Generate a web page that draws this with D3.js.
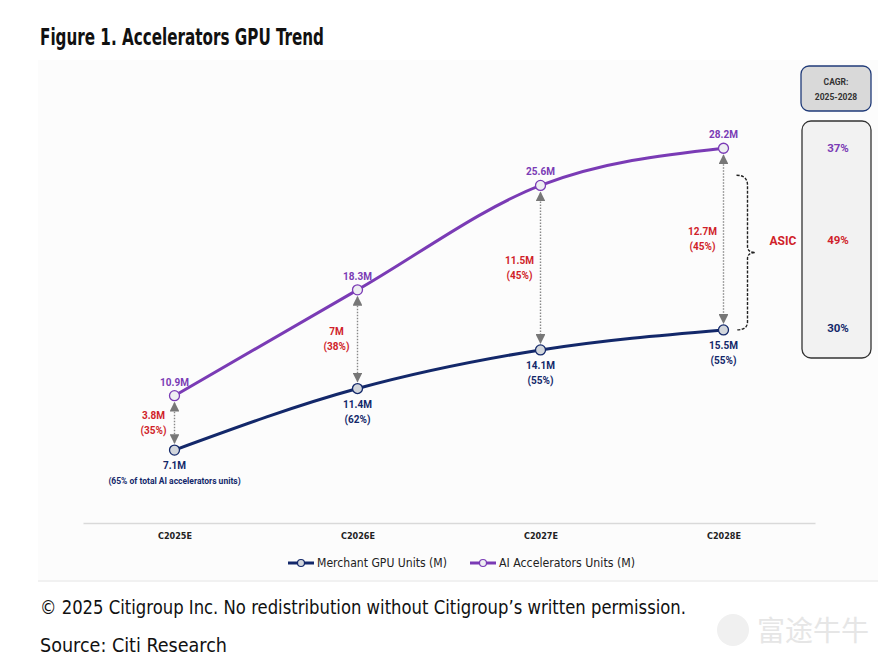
<!DOCTYPE html>
<html>
<head>
<meta charset="utf-8">
<script src="https://cdn.jsdelivr.net/npm/d3@7"></script>
<style>
  body { margin: 0; background: #fff; }
  svg text { font-family: "Roboto", "Liberation Sans", sans-serif; }
  .cond { font-family: "Liberation Sans Narrow", "DejaVu Sans Condensed", sans-serif !important; }
</style>
</head>
<body>
<div id="graph"></div>
<script>
// chart data
var years = ["C2025E", "C2026E", "C2027E", "C2028E"];
var merchantGPU = [7.1, 11.4, 14.1, 15.5];
var aiAccel = [10.9, 18.3, 25.6, 28.2];
var merchantShare = ["(65% of total AI accelerators units)", "(62%)", "(55%)", "(55%)"];
var asicUnits = ["3.8M", "7M", "11.5M", "12.7M"];
var asicShare = ["(35%)", "(38%)", "(45%)", "(45%)"];
var cagrLabels = ["37%", "49%", "30%"];
var seriesNames = ["Merchant GPU Units (M)", "AI Accelerators Units (M)"];

var W = 895, H = 667;
var navy = "#13286a", purple = "#7a3bb5", red = "#d01f2a";

var svg = d3.select("#graph").append("svg")
    .attr("width", W)
    .attr("height", H);

// arrow marker
var defs = svg.append("defs");
defs.append("marker")
    .attr("id", "arr")
    .attr("viewBox", "0 0 10 10")
    .attr("refX", 9).attr("refY", 5)
    .attr("markerWidth", 7).attr("markerHeight", 7)
    .attr("orient", "auto-start-reverse")
    .append("path")
    .attr("d", "M0,0L10,5L0,10Z")
    .attr("fill", "#777");

// title
svg.append("text")
    .attr("class", "cond")
    .attr("x", 40).attr("y", 45)
    .attr("textLength", 284).attr("lengthAdjust", "spacingAndGlyphs")
    .style("font-size", "23px").style("font-weight", "bold")
    .attr("fill", "#111")
    .text("Figure 1. Accelerators GPU Trend");

// chart panel
svg.append("rect")
    .attr("x", 38).attr("y", 60).attr("width", 840).attr("height", 520)
    .attr("fill", "#fcfcfc");

var x = d3.scalePoint().domain(years).range([83, 815]).padding(0.5);
var y = d3.scaleLinear().domain([2, 30]).range([523, 122.5]);

// x axis
var xAxis = svg.append("g")
    .attr("transform", "translate(0,523)")
    .call(d3.axisBottom(x).tickSize(0).tickPadding(10));
xAxis.select(".domain").attr("stroke", "#d9d9d9").attr("stroke-width", 1.5);
xAxis.selectAll("text")
    .attr("class", "cond")
    .style("font-size", "9px").style("font-weight", "bold")
    .attr("fill", "#222");

var line = d3.line()
    .x(function(d, i) { return x(years[i]); })
    .y(function(d) { return y(d); })
    .curve(d3.curveMonotoneX);

// ASIC gap arrows
years.forEach(function(yr, i) {
    svg.append("line")
        .attr("x1", x(yr)).attr("x2", x(yr))
        .attr("y1", y(aiAccel[i]) + 7).attr("y2", y(merchantGPU[i]) - 7)
        .attr("stroke", "#888").attr("stroke-width", 1.4)
        .attr("stroke-dasharray", "1.5,1.5")
        .attr("marker-start", "url(#arr)")
        .attr("marker-end", "url(#arr)");
    var mid = (y(aiAccel[i]) + y(merchantGPU[i])) / 2;
    var lbl = svg.append("text")
        .attr("x", x(yr) - 21).attr("y", mid - 4)
        .attr("text-anchor", "middle")
        .style("font-size", "10px").style("font-weight", "bold")
        .attr("fill", red);
    lbl.append("tspan").attr("x", x(yr) - 21).text(asicUnits[i]);
    lbl.append("tspan").attr("x", x(yr) - 21).attr("dy", 15).text(asicShare[i]);
});

// lines
svg.append("path").datum(aiAccel)
    .attr("d", line).attr("fill", "none")
    .attr("stroke", purple).attr("stroke-width", 3);
svg.append("path").datum(merchantGPU)
    .attr("d", line).attr("fill", "none")
    .attr("stroke", navy).attr("stroke-width", 3);

// markers
svg.selectAll(".dotAI").data(aiAccel).enter().append("circle")
    .attr("cx", function(d, i) { return x(years[i]); })
    .attr("cy", function(d) { return y(d); })
    .attr("r", 5).attr("fill", "#eeeef2")
    .attr("stroke", purple).attr("stroke-width", 1.3);
svg.selectAll(".dotM").data(merchantGPU).enter().append("circle")
    .attr("cx", function(d, i) { return x(years[i]); })
    .attr("cy", function(d) { return y(d); })
    .attr("r", 5).attr("fill", "#d2d6dc")
    .attr("stroke", navy).attr("stroke-width", 1.3);

// value labels
aiAccel.forEach(function(v, i) {
    svg.append("text")
        .attr("x", x(years[i])).attr("y", y(v) - 10)
        .attr("text-anchor", "middle")
        .style("font-size", "10px").style("font-weight", "bold")
        .attr("fill", purple)
        .text(v + "M");
});
merchantGPU.forEach(function(v, i) {
    var t = svg.append("text")
        .attr("x", x(years[i])).attr("y", y(v) + 19)
        .attr("text-anchor", "middle")
        .style("font-size", "10px").style("font-weight", "bold")
        .attr("fill", navy);
    t.append("tspan").attr("x", x(years[i])).text(v + "M");
    t.append("tspan").attr("x", x(years[i])).attr("dy", 15)
        .style("font-size", i == 0 ? "8.5px" : "10px")
        .text(merchantShare[i]);
});

// ASIC brace
var bx = x(years[3]) + 24, by0 = y(aiAccel[3]) + 27, by1 = y(merchantGPU[3]);
var bm = (by0 + by1) / 2;
svg.append("path")
    .attr("d", "M" + (bx - 11) + "," + by0 + " Q" + bx + "," + by0 + " " + bx + "," + (by0 + 10) +
        " L" + bx + "," + (bm - 6) + " Q" + bx + "," + bm + " " + (bx + 8) + "," + bm +
        " Q" + bx + "," + bm + " " + bx + "," + (bm + 6) +
        " L" + bx + "," + (by1 - 8) + " Q" + bx + "," + by1 + " " + (bx - 11) + "," + by1)
    .attr("fill", "none").attr("stroke", "#222").attr("stroke-width", 1.4)
    .attr("stroke-dasharray", "3,1.5");
svg.append("text")
    .attr("x", bx + 22).attr("y", bm - 8)
    .style("font-size", "12px").style("font-weight", "bold")
    .attr("fill", red).text("ASIC");

// CAGR boxes
svg.append("rect")
    .attr("x", 801).attr("y", 66).attr("width", 70).attr("height", 45)
    .attr("rx", 8).attr("fill", "#d9d9d9")
    .attr("stroke", "#1f3a78").attr("stroke-width", 1.3);
svg.append("text").attr("x", 836).attr("y", 85).attr("text-anchor", "middle")
    .style("font-size", "8.5px").style("font-weight", "bold").attr("fill", "#333")
    .text("CAGR:");
svg.append("text").attr("x", 836).attr("y", 100).attr("text-anchor", "middle")
    .style("font-size", "8.5px").style("font-weight", "bold").attr("fill", "#333")
    .text("2025-2028");
svg.append("rect")
    .attr("x", 802).attr("y", 121).attr("width", 69).attr("height", 237)
    .attr("rx", 9).attr("fill", "#f2f2f2")
    .attr("stroke", "#333").attr("stroke-width", 1.3);
var cagrY = [y(aiAccel[3]), bm - 13, y(merchantGPU[3]) - 2];
var cagrColor = [purple, red, navy];
cagrLabels.forEach(function(c, i) {
    svg.append("text").attr("x", 838).attr("y", cagrY[i] + 4)
        .attr("text-anchor", "middle")
        .style("font-size", "11.5px").style("font-weight", "bold")
        .attr("fill", cagrColor[i]).text(c);
});

// legend
var legX = [288, 470];
var legCol = [navy, purple];
var legFill = ["#d2d6dc", "#eeeef2"];
seriesNames.forEach(function(n, i) {
    var g = svg.append("g").attr("transform", "translate(" + legX[i] + ",563)");
    g.append("line").attr("x1", 0).attr("x2", 26)
        .attr("stroke", legCol[i]).attr("stroke-width", 3);
    g.append("circle").attr("cx", 13).attr("r", 3.5)
        .attr("fill", legFill[i]).attr("stroke", legCol[i]).attr("stroke-width", 1.2);
    g.append("text").attr("class", "cond").attr("x", 29).attr("y", 4)
        .attr("textLength", i == 0 ? 130 : 136).attr("lengthAdjust", "spacingAndGlyphs")
        .style("font-size", "12px").attr("fill", "#222").text(n);
});

// footer
svg.append("line").attr("x1", 38).attr("x2", 878).attr("y1", 581).attr("y2", 581)
    .attr("stroke", "#e3e3e3").attr("stroke-width", 1.2);
svg.append("text").attr("class", "cond")
    .attr("x", 40).attr("y", 614)
    .attr("textLength", 646).attr("lengthAdjust", "spacingAndGlyphs")
    .style("font-size", "20px").attr("fill", "#111")
    .text("© 2025 Citigroup Inc. No redistribution without Citigroup’s written permission.");
svg.append("text").attr("class", "cond")
    .attr("x", 40).attr("y", 652)
    .attr("textLength", 187).attr("lengthAdjust", "spacingAndGlyphs")
    .style("font-size", "20px").attr("fill", "#111")
    .text("Source: Citi Research");

// watermark
svg.append("circle").attr("cx", 733).attr("cy", 630).attr("r", 16)
    .attr("fill", "#f0f0f0");
svg.append("text")
    .attr("x", 757).attr("y", 641)
    .style("font-family", "'Noto Sans CJK SC'")
    .style("font-size", "28px").attr("fill", "#e6e6e6")
    .text("富途牛牛");
</script>
</body>
</html>
